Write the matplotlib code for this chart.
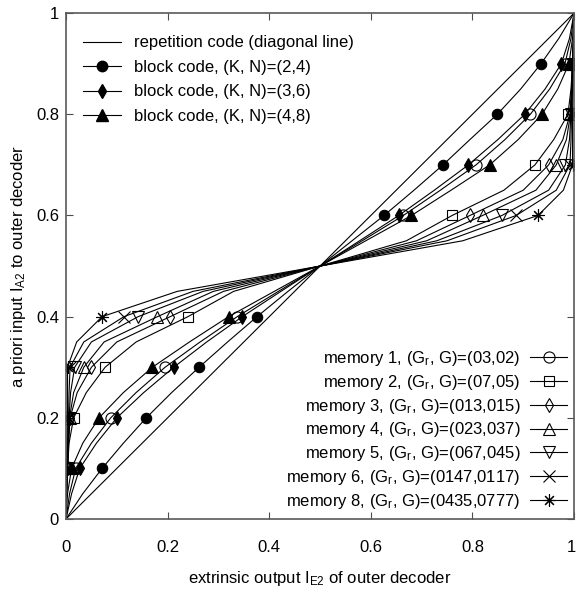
import matplotlib.pyplot as plt
import matplotlib.transforms as mtransforms
from matplotlib.lines import Line2D

plt.rcParams['font.family'] = 'Liberation Sans'
plt.rcParams['mathtext.fontset'] = 'custom'
plt.rcParams['mathtext.rm'] = 'Liberation Sans'
plt.rcParams['mathtext.it'] = 'Liberation Sans:italic'
plt.rcParams['font.size'] = 12

# a priori input I_A2 where the transfer curves were evaluated
ia2 = [0.0, 0.05, 0.1, 0.15, 0.2, 0.25, 0.3, 0.35, 0.4, 0.45, 0.5,
       0.55, 0.6, 0.65, 0.7, 0.75, 0.8, 0.85, 0.9, 0.95, 1.0]

# extrinsic output I_E2 of the block codes
block_24 = [0.0, 0.033, 0.071, 0.113, 0.158, 0.208, 0.262, 0.318, 0.376, 0.437, 0.5,
            0.563, 0.626, 0.685, 0.742, 0.795, 0.849, 0.895, 0.935, 0.970, 1.0]
block_36 = [0.0, 0.011, 0.027, 0.060, 0.100, 0.153, 0.212, 0.277, 0.347, 0.423, 0.5,
            0.578, 0.655, 0.725, 0.792, 0.850, 0.903, 0.943, 0.975, 0.991, 1.0]
block_48 = [0.0, 0.003, 0.011, 0.033, 0.065, 0.113, 0.170, 0.243, 0.320, 0.410, 0.5,
            0.590, 0.680, 0.758, 0.834, 0.890, 0.937, 0.968, 0.990, 0.997, 1.0]

# extrinsic output I_E2 of the recursive convolutional codes
mem1 = [0.0, 0.007, 0.019, 0.050, 0.088, 0.138, 0.195, 0.264, 0.337, 0.418, 0.5,
        0.583, 0.664, 0.737, 0.807, 0.864, 0.914, 0.952, 0.982, 0.994, 1.0]
mem2 = [0.0, 0.001, 0.003, 0.006, 0.015, 0.040, 0.077, 0.138, 0.240, 0.330, 0.5,
        0.670, 0.760, 0.862, 0.923, 0.960, 0.988, 0.994, 0.997, 0.999, 1.0]
mem3 = [0.0, 0.001, 0.003, 0.005, 0.008, 0.022, 0.050, 0.100, 0.205, 0.310, 0.5,
        0.690, 0.795, 0.900, 0.950, 0.978, 0.992, 0.995, 0.997, 0.999, 1.0]
mem4 = [0.0, 0.001, 0.003, 0.005, 0.007, 0.015, 0.035, 0.075, 0.180, 0.290, 0.5,
        0.710, 0.820, 0.925, 0.965, 0.985, 0.993, 0.995, 0.997, 0.999, 1.0]
mem5 = [0.0, 0.001, 0.003, 0.004, 0.006, 0.009, 0.017, 0.050, 0.142, 0.270, 0.5,
        0.730, 0.858, 0.950, 0.983, 0.991, 0.994, 0.996, 0.997, 0.999, 1.0]
mem6 = [0.0, 0.001, 0.002, 0.003, 0.005, 0.006, 0.008, 0.035, 0.114, 0.250, 0.5,
        0.750, 0.886, 0.965, 0.992, 0.994, 0.995, 0.997, 0.998, 0.999, 1.0]
mem8 = [0.0, 0.001, 0.001, 0.002, 0.003, 0.003, 0.003, 0.021, 0.071, 0.219, 0.5,
        0.781, 0.929, 0.979, 0.997, 0.997, 0.997, 0.998, 0.999, 0.999, 1.0]

block_labels = ['block code, (K, N)=(2,4)',
                'block code, (K, N)=(3,6)',
                'block code, (K, N)=(4,8)']
mem_labels = [r'memory 1, (G$_{\rm r}$, G)=(03,02)',
              r'memory 2, (G$_{\rm r}$, G)=(07,05)',
              r'memory 3, (G$_{\rm r}$, G)=(013,015)',
              r'memory 4, (G$_{\rm r}$, G)=(023,037)',
              r'memory 5, (G$_{\rm r}$, G)=(067,045)',
              r'memory 6, (G$_{\rm r}$, G)=(0147,0117)',
              r'memory 8, (G$_{\rm r}$, G)=(0435,0777)']

# markers only at I_A2 = 0.1 ... 0.9, skipping 0.5
mark_idx = [2, 4, 6, 8, 12, 14, 16, 18]

block_styles = [dict(marker='o', ms=7.5, mfc='k'),
                dict(marker='d', ms=7.5, mfc='k'),
                dict(marker='^', ms=8, mfc='k')]
mem_styles = [dict(marker='o', ms=8, mfc='none'),
              dict(marker='s', ms=7.5, mfc='none'),
              dict(marker='d', ms=7.5, mfc='none'),
              dict(marker='^', ms=8, mfc='none'),
              dict(marker='v', ms=8, mfc='none'),
              dict(marker='x', ms=8, mfc='none'),
              dict(marker=(8, 2, 0), ms=9, mfc='none')]

fig = plt.figure(figsize=(5.76, 5.91), dpi=100)
ax = fig.add_axes([0.1146, 0.1218, 0.882, 0.856])

lw = 0.8
ax.plot([0, 1], [0, 1], color='k', lw=lw)

for ie, st in zip([block_24, block_36, block_48], block_styles):
    ax.plot(ie, ia2, color='k', lw=lw, mec='k', mew=0.8, markevery=mark_idx, **st)
for ie, st in zip([mem1, mem2, mem3, mem4, mem5, mem6, mem8], mem_styles):
    ax.plot(ie, ia2, color='k', lw=lw, mec='k', mew=0.8, markevery=mark_idx, **st)

ax.set_xlim(0, 1)
ax.set_ylim(0, 1)
ticks = [0, 0.2, 0.4, 0.6, 0.8, 1]
ax.set_xticks(ticks)
ax.set_yticks(ticks)
ax.set_xticklabels(['0', '0.2', '0.4', '0.6', '0.8', '1'])
ax.set_yticklabels(['0', '0.2', '0.4', '0.6', '0.8', '1'])
ax.tick_params(direction='in', top=True, right=True, length=5, width=0.8,
               labelsize=12, color='0.3')
ax.tick_params(axis='x', pad=15)
ax.tick_params(axis='y', pad=5)
for sp in ax.spines.values():
    sp.set_color('0.35')
    sp.set_linewidth(1.2)

# keep the last x tick label inside the canvas
last = ax.get_xticklabels()[-1]
last.set_transform(last.get_transform() +
                   mtransforms.ScaledTranslation(-3 / 100, 0, fig.dpi_scale_trans))

ax.set_xlabel(r'extrinsic output I$_{\rm E2}$ of outer decoder', fontsize=12, labelpad=10)
ax.set_ylabel(r'a priori input I$_{\rm A2}$ to outer decoder', fontsize=12, labelpad=6)

h1 = [Line2D([], [], color='k', lw=lw)]
h1 += [Line2D([], [], color='k', lw=lw, mec='k', **st) for st in block_styles]
leg1 = ax.legend(h1, ['repetition code (diagonal line)'] + block_labels,
                 loc='upper left', bbox_to_anchor=(0.033, 0.956), borderaxespad=0,
                 borderpad=0, frameon=False, handlelength=2.3, handletextpad=0.8,
                 labelspacing=0.57, fontsize=12)
ax.add_artist(leg1)

h2 = [Line2D([], [], color='k', lw=lw, mec='k', mew=0.8, **st) for st in mem_styles]
ax.legend(h2, mem_labels, loc='lower right', bbox_to_anchor=(0.986, 0.016),
          borderaxespad=0, borderpad=0, frameon=False, markerfirst=False,
          handlelength=2.2, handletextpad=0.6, labelspacing=0.29, fontsize=12)

fig.savefig('out.png', dpi=100)
